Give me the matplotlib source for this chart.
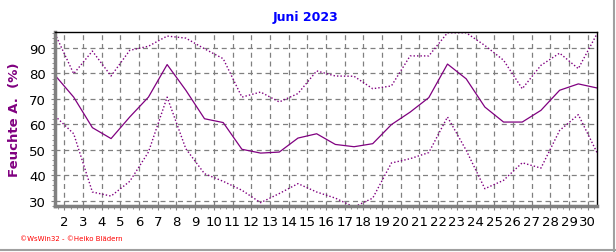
import numpy as np
import matplotlib.pyplot as plt
from matplotlib.ticker import MultipleLocator

# daily values, Juni 2023 (plotted at day + 0.5)
days = np.arange(1, 31)
mean_rh = [79.3, 70.7, 58.7, 54.4, 62.9, 70.7, 83.5, 73.4, 62.2, 60.7,
           50.2, 48.7, 49.1, 54.6, 56.3, 52.1, 51.2, 52.4, 59.9, 64.8,
           70.5, 83.7, 77.9, 66.8, 60.9, 60.9, 65.5, 73.4, 75.9, 74.3]
max_rh = [95.6, 79.9, 88.8, 79.0, 89.1, 90.7, 94.7, 93.9, 89.7, 85.8,
          70.7, 72.7, 68.8, 72.1, 81.0, 79.0, 78.9, 74.0, 75.1, 86.9,
          86.9, 96.0, 96.0, 91.0, 85.2, 74.0, 83.2, 88.0, 81.9, 95.6]
min_rh = [63.3, 56.3, 33.4, 31.8, 37.6, 49.1, 70.7, 50.4, 40.6, 37.6,
          34.1, 29.2, 32.8, 36.7, 33.4, 31.0, 27.5, 31.0, 44.8, 46.5,
          48.9, 62.9, 49.8, 34.7, 38.0, 44.9, 42.8, 57.6, 63.8, 48.9]
xticks = np.arange(2, 31)
yticks = [30, 40, 50, 60, 70, 80, 90]

col = '#800080'
fig = plt.figure(figsize=(6.16, 2.53), dpi=100)
ax = fig.add_axes([55/616, 1-207/253, 542/616, 174/253])

x = days + 0.5
ax.plot(x, mean_rh, color=col, lw=0.9)
ax.plot(x, max_rh, color=col, lw=1.0, ls=(0, (1, 1.5)))
ax.plot(x, min_rh, color=col, lw=1.0, ls=(0, (1, 1.5)))

ax.set_xlim(1.5, 30.5)
ax.set_ylim(27.9, 96.3)
ax.set_xticks(xticks)
ax.set_yticks(yticks)
ax.xaxis.set_minor_locator(MultipleLocator(1/3))
ax.yaxis.set_minor_locator(MultipleLocator(2))
ax.tick_params(labelsize=9.5, length=3, color='#808080')
ax.tick_params(which='minor', length=2, color='#808080')
ax.grid(True, color='#808080', ls=(0, (4, 3)), lw=0.9)

for s in ['top', 'right']:
    ax.spines[s].set_color('black')
    ax.spines[s].set_linewidth(1)
for s in ['left', 'bottom']:
    ax.spines[s].set_color('#808080')
    ax.spines[s].set_linewidth(2.5)

ax.set_ylabel('Feuchte A.  (%)', color=col, fontsize=9.5, fontweight='bold', labelpad=6)
fig.text(305/616, 1-18/253, 'Juni 2023', color='#0000ff', fontsize=9,
         fontweight='bold', ha='center', va='center')
fig.text(20/616, 1-239/253, '\u00a9WsWin32 - \u00a9Heiko Blädern', color='red',
         fontsize=5, ha='left', va='center')

# window frame
fig.add_artist(plt.Line2D([0, 1], [2/253, 2/253], color='#a0a0a0', lw=1.5))
fig.add_artist(plt.Line2D([614/616, 614/616], [0, 1], color='#a0a0a0', lw=1.5))

fig.savefig('out.png', dpi=100)
